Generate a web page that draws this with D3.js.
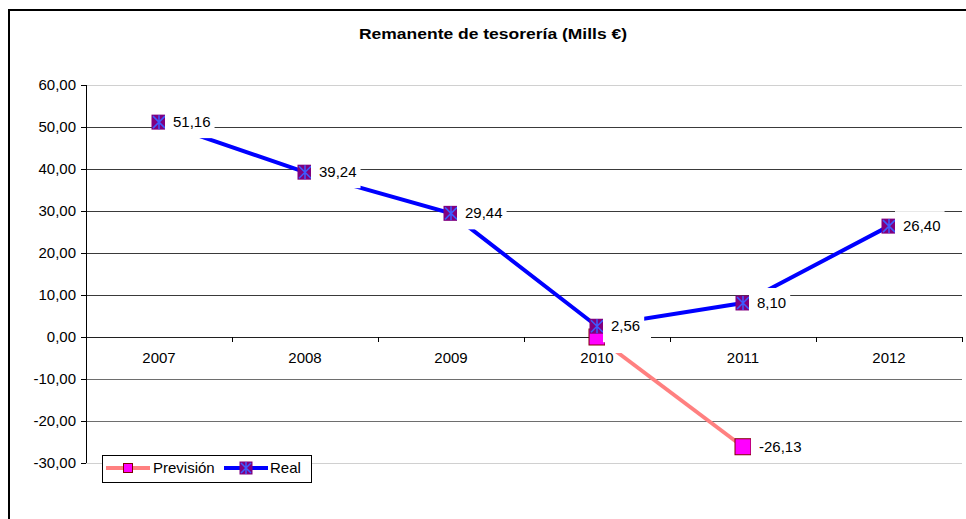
<!DOCTYPE html>
<html>
<head>
<meta charset="utf-8">
<script src="https://cdn.jsdelivr.net/npm/d3@7"></script>
<style>
  html, body { margin: 0; padding: 0; background: #fff; }
  svg { display: block; font-family: "Liberation Sans", Arial, sans-serif; }
</style>
</head>
<body>
<svg id="chart" width="966" height="519"></svg>
<script>
// ---- data ----
const title = "Remanente de tesorería (Mills €)";
const years = ["2007", "2008", "2009", "2010", "2011", "2012"];
const realValues = [51.16, 39.24, 29.44, 2.56, 8.10, 26.40];
const previsionYears = ["2010", "2011"];
const previsionValues = [0.00, -26.13];
const previsionLabelShown = [false, true]; // 2010 label is hidden behind the Real label
const yTicks = [-30, -20, -10, 0, 10, 20, 30, 40, 50, 60];
const seriesNames = ["Previsión", "Real"];

const loc = d3.formatLocale({decimal: ",", thousands: ".", grouping: [3], currency: ["", "€"], minus: "-"});
const fmt = loc.format(".2f");

const svg = d3.select("#chart");
svg.append("rect").attr("width", 966).attr("height", 519).attr("fill", "#fff");
// chart border
svg.append("rect").attr("x", 9).attr("y", 10).attr("width", 1000).attr("height", 600)
  .attr("fill", "none").attr("stroke", "#000").attr("stroke-width", 2);

const x = d3.scaleBand().domain(years).range([86, 962]).padding(0);
const y = d3.scaleLinear().domain([-30, 60]).range([463, 85]);
const cx = d => x(d) + x.bandwidth() / 2;

// title
svg.append("text").attr("x", 493).attr("y", 39).attr("text-anchor", "middle")
  .attr("font-size", 15).attr("font-weight", "bold").attr("fill", "#000")
  .attr("textLength", 268).attr("lengthAdjust", "spacingAndGlyphs")
  .text(title);

// gridlines
const gridColor = v => (v === 60 || v === -30) ? "#d0d0d0" : (v < 0 ? "#6e6e6e" : "#3a3a3a");
svg.append("g").selectAll("line").data(yTicks.filter(v => v !== 0)).join("line")
  .attr("x1", 86).attr("x2", 962)
  .attr("y1", d => y(d)).attr("y2", d => y(d))
  .attr("stroke", gridColor).attr("stroke-width", 1).attr("shape-rendering", "crispEdges");

// y axis
const yAxis = d3.axisLeft(y).tickValues(yTicks).tickFormat(fmt).tickSize(5).tickPadding(5);
const gy = svg.append("g").attr("transform", "translate(86,0)").call(yAxis);
gy.select(".domain").attr("stroke", "#000").attr("d", `M0,${y(60)}V${y(-30)}`);
gy.selectAll(".tick line").attr("stroke", "#000");
gy.selectAll(".tick text").attr("font-size", 15).attr("fill", "#000").attr("font-family", "Liberation Sans, Arial, sans-serif");
gy.selectAll("line, path").attr("shape-rendering", "crispEdges");

// x axis at zero
const gx = svg.append("g").attr("transform", `translate(0,${y(0)})`);
gx.append("line").attr("x1", 86).attr("x2", 962).attr("stroke", "#202020").attr("shape-rendering", "crispEdges");
const bounds = years.map(d => x(d)).concat([x.range()[1]]);
gx.selectAll("line.tk").data(bounds).join("line").attr("class", "tk")
  .attr("x1", d => d).attr("x2", d => d).attr("y1", 0).attr("y2", 5)
  .attr("stroke", "#000").attr("shape-rendering", "crispEdges");
gx.selectAll("text").data(years).join("text")
  .attr("x", d => cx(d)).attr("y", 26).attr("text-anchor", "middle")
  .attr("font-size", 15).attr("fill", "#000").text(d => d);

// series
const prevData = previsionYears.map((d, i) => ({year: d, value: previsionValues[i], shown: previsionLabelShown[i]}));
const realData = years.map((d, i) => ({year: d, value: realValues[i], shown: true}));
const line = d3.line().x(d => cx(d.year)).y(d => y(d.value));

function prevMarker(g, s) {
  g.append("rect").attr("x", -s / 2).attr("y", -s / 2).attr("width", s).attr("height", s)
    .attr("fill", "#ff00ff").attr("stroke", "#800000").attr("stroke-width", 1);
}
function realMarker(g, s) {
  g.append("rect").attr("x", -s / 2).attr("y", -s / 2).attr("width", s).attr("height", s)
    .attr("fill", "#800080");
  const h = s / 2 - 1.5;
  g.append("path").attr("d", `M${-h},${-h}L${h},${h}M${-h},${h}L${h},${-h}M0,${-h - 1}V${h + 1}`)
    .attr("stroke", "#3c5cff").attr("stroke-width", 1.5).attr("fill", "none");
}

svg.append("path").datum(prevData).attr("d", line).attr("fill", "none")
  .attr("stroke", "#ff8080").attr("stroke-width", 4);
prevData.forEach(d => {
  const g = svg.append("g").attr("transform", `translate(${cx(d.year)},${y(d.value)})`);
  prevMarker(g, 16);
});

svg.append("path").datum(realData).attr("d", line).attr("fill", "none")
  .attr("stroke", "#0000ff").attr("stroke-width", 4);
realData.forEach(d => {
  const g = svg.append("g").attr("transform", `translate(${cx(d.year)},${y(d.value)})`);
  realMarker(g, 15);
});

// data labels (white boxes)
function drawLabels(data, offset) {
  data.forEach(d => {
    const px = cx(d.year), py = y(d.value);
    const g = svg.append("g");
    const box = g.append("rect").attr("fill", "#fff");
    let w = 34;
    if (d.shown) {
      const t = g.append("text").attr("x", px + offset).attr("y", py + 5)
        .attr("font-size", 15).attr("fill", "#000").text(fmt(d.value));
      w = t.node().getComputedTextLength();
    }
    box.attr("x", px + offset - 8).attr("y", py - 15).attr("width", w + 12).attr("height", 31);
  });
}
drawLabels(prevData, 16);
drawLabels(realData, 14);

// legend
const lg = svg.append("g");
lg.append("rect").attr("x", 102.5).attr("y", 455.5).attr("width", 209).attr("height", 27)
  .attr("fill", "#fff").attr("stroke", "#000").attr("stroke-width", 1);
const ly = 468;
lg.append("line").attr("x1", 106).attr("x2", 150).attr("y1", ly).attr("y2", ly)
  .attr("stroke", "#ff8080").attr("stroke-width", 4);
prevMarker(lg.append("g").attr("transform", `translate(128,${ly})`), 9);
lg.append("text").attr("x", 153).attr("y", ly + 5).attr("font-size", 15).text(seriesNames[0]);
lg.append("line").attr("x1", 224).attr("x2", 268).attr("y1", ly).attr("y2", ly)
  .attr("stroke", "#0000ff").attr("stroke-width", 4);
realMarker(lg.append("g").attr("transform", `translate(246,${ly})`), 13);
lg.append("text").attr("x", 270).attr("y", ly + 5).attr("font-size", 15).text(seriesNames[1]);
</script>
</body>
</html>
